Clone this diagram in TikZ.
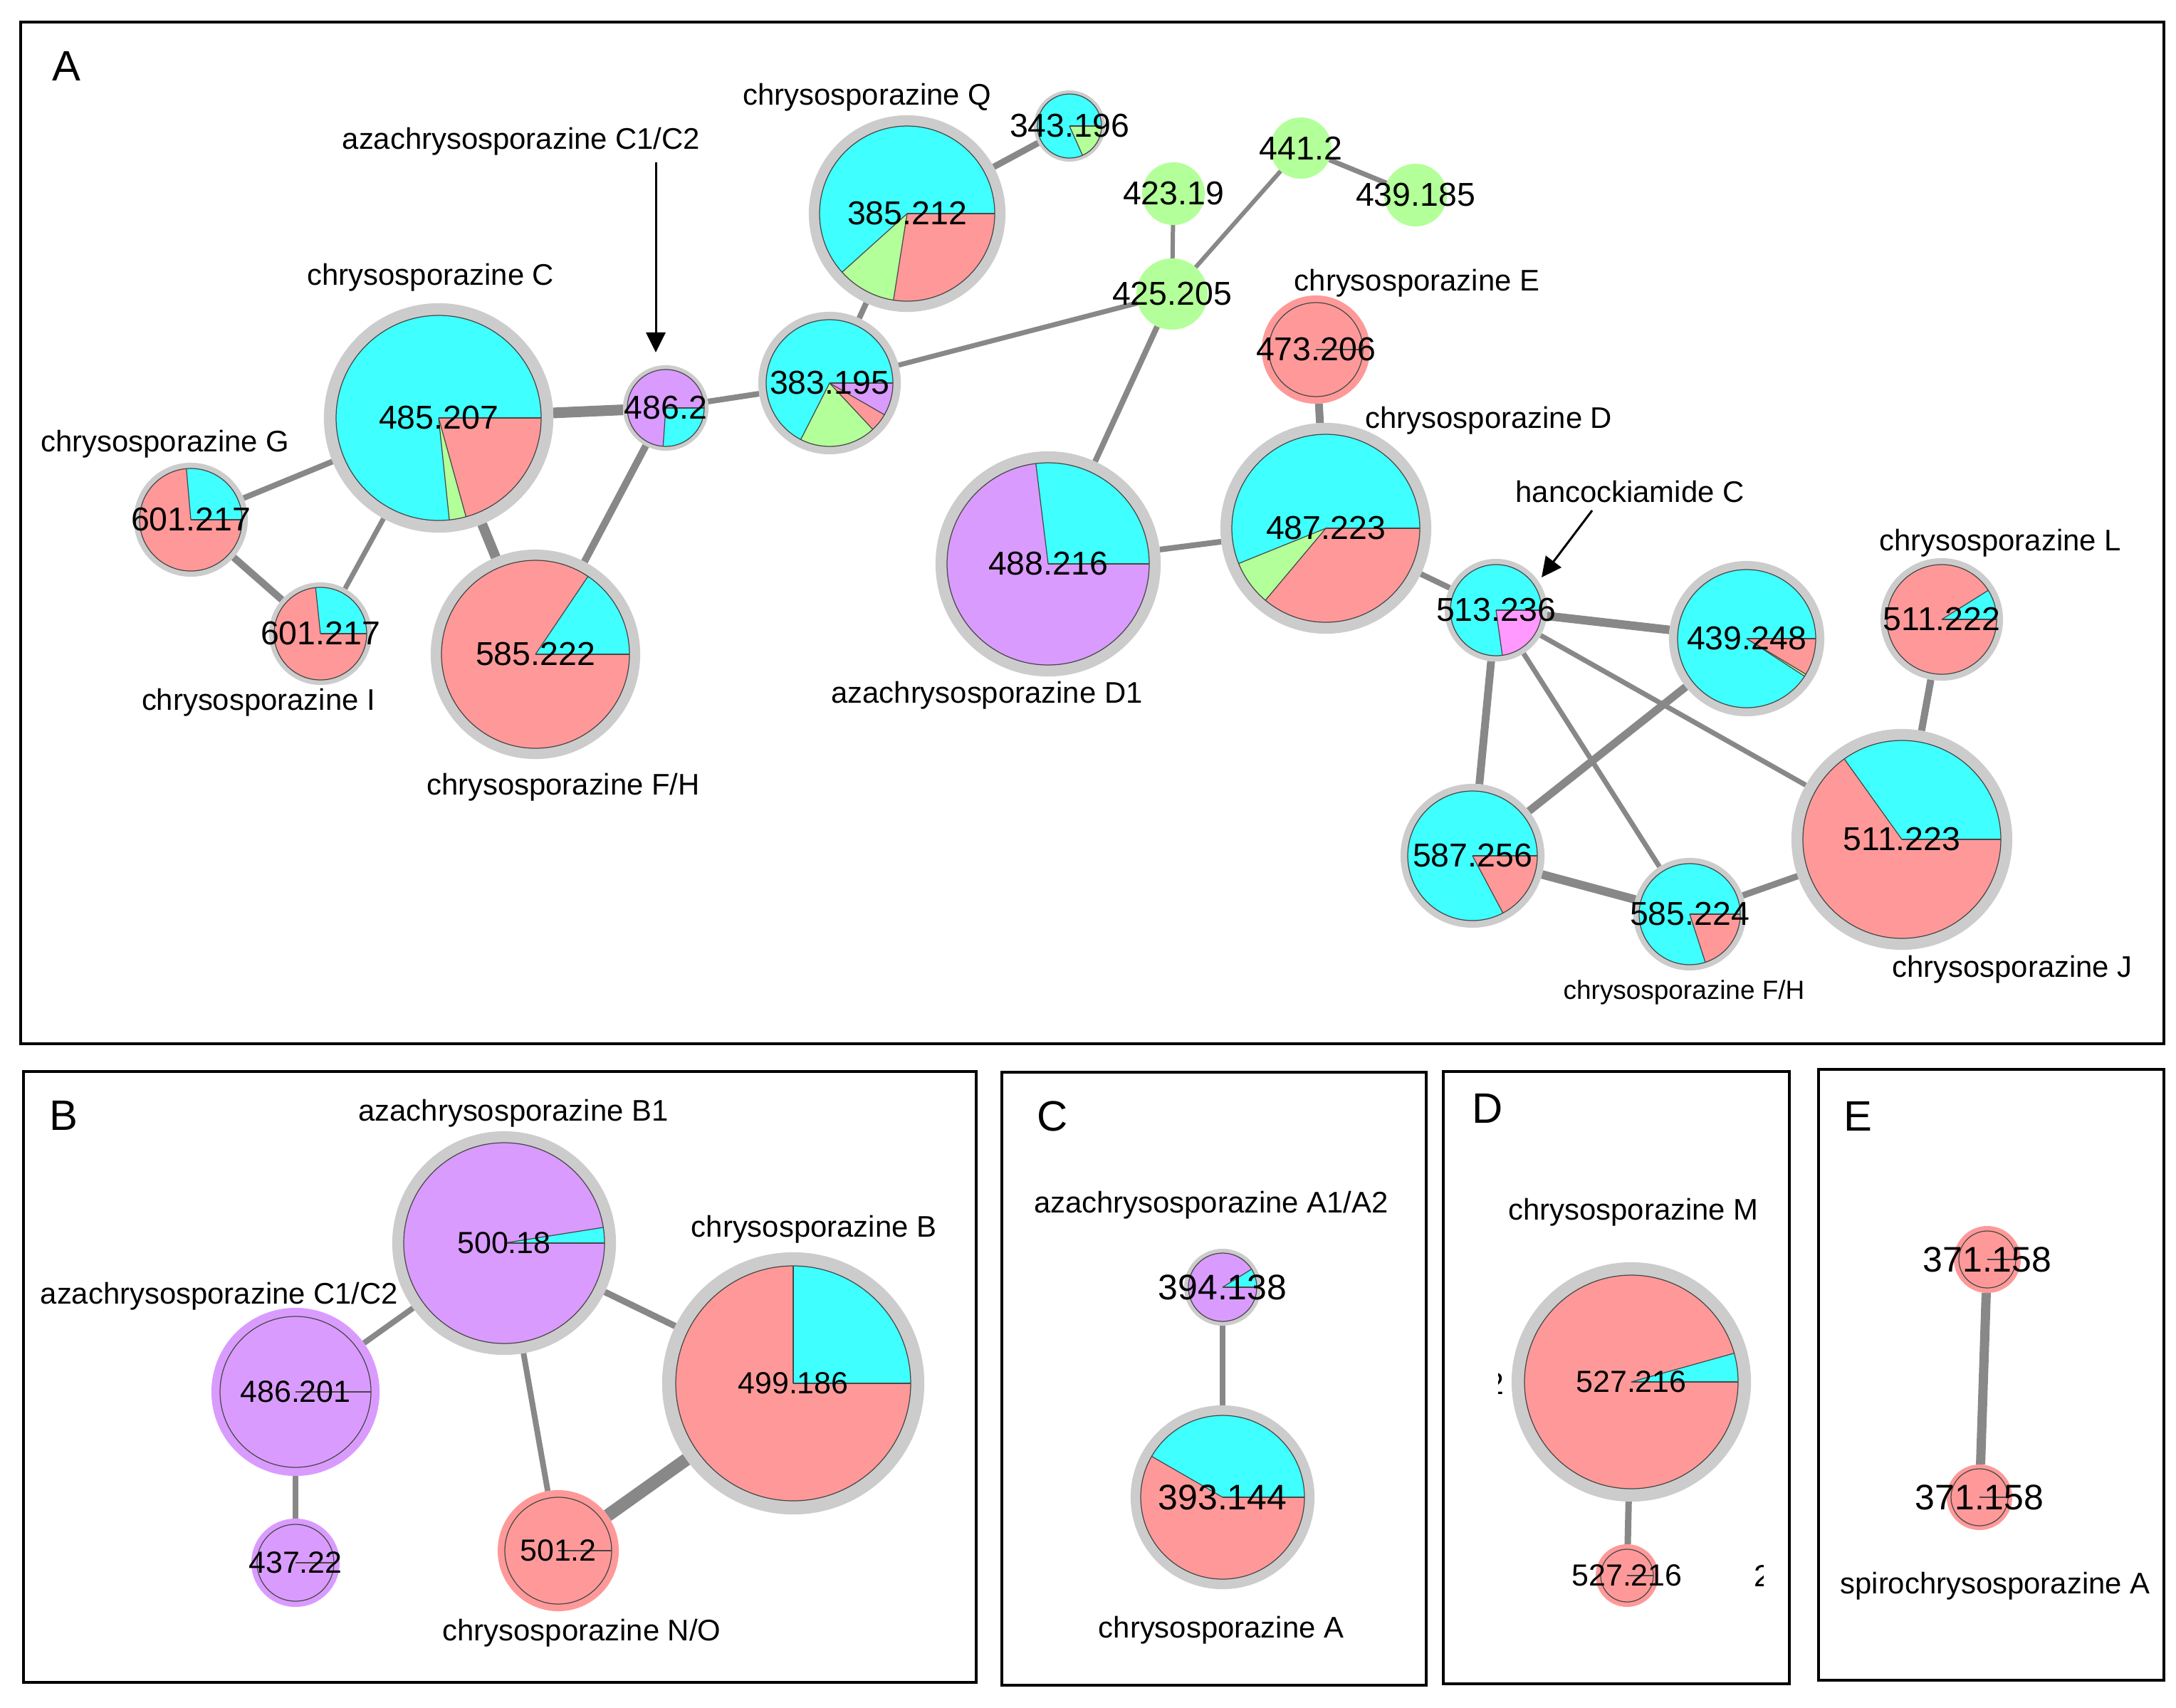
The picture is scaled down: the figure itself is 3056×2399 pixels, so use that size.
\documentclass[tikz,border=0pt]{standalone}
\usepackage{fontspec}
\setmainfont{Liberation Sans}
\usetikzlibrary{arrows.meta}
\definecolor{cy}{RGB}{64,255,255}
\definecolor{sa}{RGB}{255,153,153}
\definecolor{gr}{RGB}{179,255,153}
\definecolor{pu}{RGB}{218,155,255}
\definecolor{mg}{RGB}{255,153,255}
\definecolor{ringgray}{RGB}{204,204,204}
\definecolor{edgegray}{RGB}{136,136,136}
\pgfdeclarelayer{bg}
\pgfsetlayers{bg,main}
\newcommand\numA{\fontsize{13.2}{14}\selectfont}
\newcommand\numB{\fontsize{12.2}{13}\selectfont}
\newcommand\numC{\fontsize{14.2}{15}\selectfont}
\newcommand\lblfont{\fontsize{11.9}{13}\selectfont}
\newcommand\lblsmall{\fontsize{10.5}{12}\selectfont}
\newcommand\panelfont{\fontsize{17}{18}\selectfont}
\newcommand\nb[1]{\makebox[0pt]{#1}}
\newcommand\pieslices[2]{%
  \foreach \pa/\pb/\pc in {#2}{\fill[\pc] (path picture bounding box.center) -- ++(\pa:#1) arc[start angle=\pa,end angle=\pb,radius=#1] -- cycle;}%
  \foreach \pa/\pb/\pc in {#2}{\draw[pieline] (path picture bounding box.center) -- ++(\pa:#1);}%
  \draw[pieline] (path picture bounding box.center) circle[radius=#1];%
}
\tikzset{
  pieline/.style={draw=black!72, line width=0.35pt},
  pn/.style={circle, inner sep=0pt, outer sep=0pt, minimum size=#1*0.02cm, fill=ringgray},
  gn/.style={circle, inner sep=0pt, outer sep=0pt, minimum size=#1*0.02cm, fill=gr, font=\numA},
  ed/.style={draw=edgegray, line width=#1*0.01cm},
  lb/.style={font=\lblfont, inner sep=0pt},
  lbs/.style={font=\lblsmall, inner sep=0pt},
  pl/.style={font=\panelfont, inner sep=0pt},
  frame/.style={draw=black, line width=0.035cm},
  arr/.style={draw=black, line width=0.03cm, -{Triangle[length=0.28cm,width=0.27cm]}},
}
\begin{document}
\begin{tikzpicture}[x=0.01cm,y=0.01cm]
\useasboundingbox (0,0) rectangle (3056,-2399);
\begin{pgfonlayer}{bg}
\fill[white] (0,0) rectangle (3056,-2399);
\end{pgfonlayer}
% frames
\draw[frame] (29,-31) rectangle (3039,-1466);
\draw[frame] (33,-1505) rectangle (1371,-2363);
\draw[frame] (1407,-1506) rectangle (2003,-2367);
\draw[frame] (2027,-1505) rectangle (2513,-2365);
\draw[frame] (2554,-1502) rectangle (3039,-2360);
% panel letters
\node[pl] (pA) at (93,-93) {A};
\node[pl] (pB) at (89,-1567) {B};
\node[pl] (pC) at (1478,-1568) {C};
\node[pl] (pD) at (2089,-1557) {D};
\node[pl] (pE) at (2609,-1568) {E};

% ---------- panel A nodes
\node[pn=161, font=\numA, path picture={\pieslices{144}{0/276/cy,276/285.5/gr,285.5/360/sa}}] (n485) at (616,-587) {\nb{485.207}};
\node[pn=60, font=\numA, path picture={\pieslices{54}{0/266/pu,266/360/cy}}] (n486) at (935,-573) {\nb{486.2}};
\node[pn=80, font=\numA, path picture={\pieslices{72}{0/95/cy,95/360/sa}}] (n601g) at (268,-730) {\nb{601.217}};
\node[pn=72, font=\numA, path picture={\pieslices{65}{0/96/cy,96/360/sa}}] (n601i) at (450,-890) {\nb{601.217}};
\node[pn=147, font=\numA, path picture={\pieslices{132}{0/56/cy,56/360/sa}}] (n585a) at (752,-919) {\nb{585.222}};
\node[pn=138, font=\numA, path picture={\pieslices{123}{0/222/cy,222/261/gr,261/360/sa}}] (n385) at (1274,-300) {\nb{385.212}};
\node[pn=50, font=\numA, path picture={\pieslices{45}{0/294/cy,294/360/gr}}] (n343) at (1502,-177) {\nb{343.196}};
\node[gn=44] (n423) at (1648,-272) {\nb{423.19}};
\node[gn=43] (n441) at (1827,-208) {\nb{441.2}};
\node[gn=44] (n439g) at (1988,-274) {\nb{439.185}};
\node[gn=50] (n425) at (1646,-413) {\nb{425.205}};
\node[pn=100, font=\numA, path picture={\pieslices{89}{0/243/cy,243/313/gr,313/330/sa,330/360/pu}}] (n383) at (1165,-538) {\nb{383.195}};
\node[pn=76, fill=sa, font=\numA, path picture={\pieslices{66}{0/360/sa}}] (n473) at (1848,-491) {\nb{473.206}};
\node[pn=158, font=\numA, path picture={\pieslices{142}{0/97/cy,97/360/pu}}] (n488) at (1472,-792) {\nb{488.216}};
\node[pn=148, font=\numA, path picture={\pieslices{132}{0/202/cy,202/230/gr,230/360/sa}}] (n487) at (1862,-742) {\nb{487.223}};
\node[pn=72, font=\numA, path picture={\pieslices{64}{0/278/cy,278/360/mg}}] (n513) at (2101,-857) {\nb{513.236}};
\node[pn=109, font=\numA, path picture={\pieslices{97}{0/327/cy,327/329/gr,329/360/sa}}] (n439b) at (2453,-897) {\nb{439.248}};
\node[pn=86, font=\numA, path picture={\pieslices{77}{0/32/cy,32/360/sa}}] (n511l) at (2727,-870) {\nb{511.222}};
\node[pn=101, font=\numA, path picture={\pieslices{91}{0/298/cy,298/360/sa}}] (n587) at (2068,-1202) {\nb{587.256}};
\node[pn=79, font=\numA, path picture={\pieslices{71}{0/288/cy,288/360/sa}}] (n585b) at (2373,-1284) {\nb{585.224}};
\node[pn=155, font=\numA, path picture={\pieslices{139}{0/125.6/cy,125.6/360/sa}}] (n511j) at (2671,-1179) {\nb{511.223}};

% ---------- panel B nodes
\node[pn=157, font=\numB, path picture={\pieslices{141}{0/9/cy,9/360/pu}}] (n500) at (708,-1746) {\nb{500.18}};
\node[pn=118, fill=pu, font=\numB, path picture={\pieslices{106}{0/360/pu}}] (n486b) at (415,-1955) {\nb{486.201}};
\node[pn=62, fill=pu, font=\numB, path picture={\pieslices{54}{0/360/pu}}] (n437) at (415,-2195) {\nb{437.22}};
\node[pn=85, fill=sa, font=\numB, path picture={\pieslices{75}{0/360/sa}}] (n501) at (784,-2178) {\nb{501.2}};
\node[pn=184, font=\numB, path picture={\pieslices{165}{0/90/cy,90/360/sa}}] (n499) at (1114,-1943) {\nb{499.186}};

% ---------- panel C nodes
\node[pn=54, font=\numC, path picture={\pieslices{48}{0/32/cy,32/360/pu}}] (n394) at (1717,-1808) {\nb{394.138}};
\node[pn=129, font=\numC, path picture={\pieslices{115}{0/150/cy,150/360/sa}}] (n393) at (1717,-2103) {\nb{393.144}};

% ---------- panel D nodes
\node[pn=168, font=\numB, path picture={\pieslices{150}{0/15.6/cy,15.6/360/sa}}] (n527a) at (2291,-1941) {\nb{527.216}};
\node[pn=44, fill=sa, font=\numB, path picture={\pieslices{37}{0/360/sa}}] (n527b) at (2285,-2213) {\nb{527.216}};
\begin{scope}
\clip (2104,-1920) rectangle (2113,-1966);
\node[font=\numB, inner sep=0pt, anchor=east] (frag1) at (2113,-1943) {2};
\end{scope}
\begin{scope}
\clip (2463,-2190) rectangle (2476,-2236);
\node[font=\numB, inner sep=0pt, anchor=west] (frag2) at (2463,-2213) {2};
\end{scope}

% ---------- panel E nodes
\node[pn=47, fill=sa, font=\numC, path picture={\pieslices{40}{0/360/sa}}] (n371a) at (2791,-1769) {\nb{371.158}};
\node[pn=46, fill=sa, font=\numC, path picture={\pieslices{40}{0/360/sa}}] (n371b) at (2780,-2103) {\nb{371.158}};

% ---------- edges
\begin{pgfonlayer}{bg}
\draw[ed=15] (n485) -- (n486);
\draw[ed=8] (n486) -- (n383);
\draw[ed=10] (n486) -- (n585a);
\draw[ed=14] (n485) -- (n585a);
\draw[ed=8] (n485) -- (n601g);
\draw[ed=7] (n485) -- (n601i);
\draw[ed=10] (n601g) -- (n601i);
\draw[ed=8] (n383) -- (n385);
\draw[ed=9] (n385) -- (n343);
\draw[ed=7] (n383) -- (n425);
\draw[ed=6] (n425) -- (n423);
\draw[ed=6] (n425) -- (n441);
\draw[ed=7] (n441) -- (n439g);
\draw[ed=8] (n425) -- (n488);
\draw[ed=8] (n488) -- (n487);
\draw[ed=11] (n487) -- (n473);
\draw[ed=8] (n487) -- (n513);
\draw[ed=12] (n513) -- (n439b);
\draw[ed=11] (n513) -- (n587);
\draw[ed=7] (n513) -- (n585b);
\draw[ed=7] (n513) -- (n511j);
\draw[ed=11] (n439b) -- (n587);
\draw[ed=12] (n587) -- (n585b);
\draw[ed=9] (n585b) -- (n511j);
\draw[ed=10] (n511l) -- (n511j);
\draw[ed=8] (n500) -- (n486b);
\draw[ed=9] (n500) -- (n499);
\draw[ed=8] (n500) -- (n501);
\draw[ed=18] (n499) -- (n501);
\draw[ed=8] (n486b) -- (n437);
\draw[ed=8] (n394) -- (n393);
\draw[ed=9] (n527a) -- (n527b);
\draw[ed=13] (n371a) -- (n371b);
\end{pgfonlayer}

% ---------- labels panel A
\node[lb] (lC12) at (732,-199) {azachrysosporazine C1/C2};
\node[lb] (lC) at (605,-390) {chrysosporazine C};
\node[lb] (lG) at (232,-624) {chrysosporazine G};
\node[lb] (lI) at (363,-987) {chrysosporazine I};
\node[lb] (lFH) at (791,-1106) {chrysosporazine F/H};
\node[lb] (lQ) at (1218,-137) {chrysosporazine Q};
\node[lb] (lE) at (1990,-398) {chrysosporazine E};
\node[lb] (lD) at (2091,-591) {chrysosporazine D};
\node[lb] (lD1) at (1386,-977) {azachrysosporazine D1};
\node[lb] (lH) at (2289,-691) {hancockiamide C};
\node[lb] (lL) at (2809,-763) {chrysosporazine L};
\node[lbs] (lFH2) at (2365,-1394) {chrysosporazine F/H};
\node[lb] (lJ) at (2826,-1362) {chrysosporazine J};
% arrows
\coordinate (a1s) at (921,-228);
\coordinate (a1e) at (921,-495);
\draw[arr] (a1s) -- (a1e);
\coordinate (a2s) at (2236,-717);
\coordinate (a2e) at (2165,-811);
\draw[arr] (a2s) -- (a2e);

% ---------- labels panels B-E
\node[lb] (lB1) at (721,-1564) {azachrysosporazine B1};
\node[lb] (lB) at (1143,-1727) {chrysosporazine B};
\node[lb] (lC12b) at (308,-1821) {azachrysosporazine C1/C2};
\node[lb] (lNO) at (817,-2294) {chrysosporazine N/O};
\node[lb] (lA12) at (1701,-1693) {azachrysosporazine A1/A2};
\node[lb] (lA) at (1715,-2290) {chrysosporazine A};
\node[lb] (lM) at (2294,-1703) {chrysosporazine M};
\node[lb] (lS) at (2802,-2228) {spirochrysosporazine A};
\end{tikzpicture}
\end{document}
